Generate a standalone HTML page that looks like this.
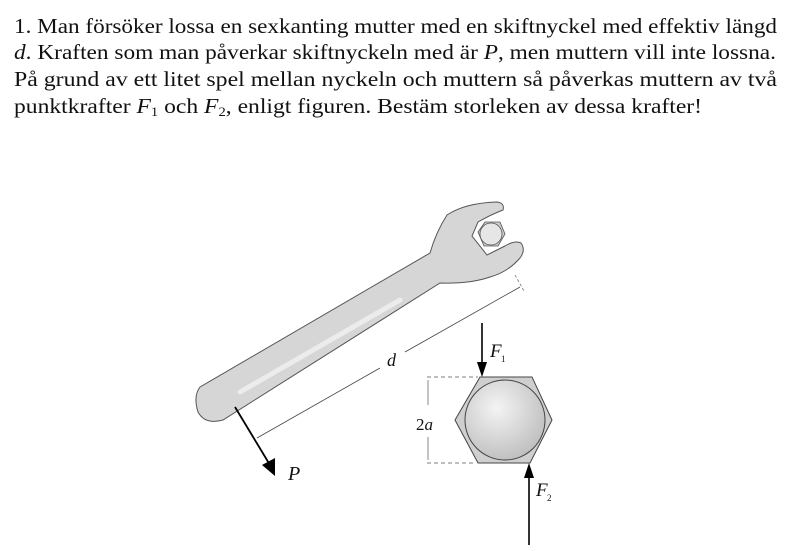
<!DOCTYPE html>
<html><head><meta charset="utf-8"><style>
body{margin:0;background:#fff;}
svg{display:block}
text{font-family:"Liberation Serif",serif;fill:#111}
</style></head><body>
<svg width="800" height="551" viewBox="0 0 800 551" xmlns="http://www.w3.org/2000/svg">
<defs>
<radialGradient id="g" cx="0.4" cy="0.35" r="0.7"><stop offset="0" stop-color="#f4f4f4"/><stop offset="1" stop-color="#bdbdbd"/></radialGradient>
</defs>
<g font-size="21">
<text x="14" y="33" textLength="763" lengthAdjust="spacingAndGlyphs">1. Man försöker lossa en sexkanting mutter med en skiftnyckel med effektiv längd</text>
<text x="14" y="59" textLength="762" lengthAdjust="spacingAndGlyphs"><tspan font-style="italic">d</tspan>. Kraften som man påverkar skiftnyckeln med är <tspan font-style="italic">P</tspan>, men muttern vill inte lossna.</text>
<text x="14" y="86" textLength="763" lengthAdjust="spacingAndGlyphs">På grund av ett litet spel mellan nyckeln och muttern så påverkas muttern av två</text>
<text x="14" y="113" textLength="688" lengthAdjust="spacingAndGlyphs">punktkrafter <tspan font-style="italic">F</tspan><tspan font-size="13" dy="3">1</tspan><tspan dy="-3"> och </tspan><tspan font-style="italic">F</tspan><tspan font-size="13" dy="3">2</tspan><tspan dy="-3">, enligt figuren. Bestäm storleken av dessa krafter!</tspan></text>
</g>
<!-- wrench -->
<path d="M200,387 L430,253 Q436,232 447,215 Q465,203 497,202 Q505,203 503,210 Q490,215 478,222 L472,236 L487,255 L505,246 Q515,240 521,243 Q526,250 520,258 Q508,272 490,277 Q470,284 440,283 L223,420 Q205,425 198,412 Q193,396 200,387 Z" fill="#d6d6d6" stroke="#555" stroke-width="1"/>
<path d="M240,392 L400,300" stroke="#ececec" stroke-width="5" stroke-linecap="round"/>
<polygon points="478,232 485,222 500,222 505,234 498,246 484,246" fill="#ccc" stroke="#555" stroke-width="0.8"/>
<circle cx="491" cy="234" r="11" fill="#e6e6e6" stroke="#555" stroke-width="0.8"/>
<!-- d dimension -->
<line x1="257" y1="438" x2="380" y2="368" stroke="#444" stroke-width="0.8"/>
<line x1="405" y1="352" x2="520" y2="287" stroke="#444" stroke-width="0.8"/>
<line x1="515" y1="275" x2="524" y2="291" stroke="#666" stroke-width="0.7" stroke-dasharray="3,2"/>
<text x="387" y="366" font-size="18" font-style="italic">d</text>
<!-- P arrow -->
<line x1="235" y1="407" x2="270" y2="465" stroke="#000" stroke-width="1.8"/>
<polygon points="275,476 262,465 275,458" fill="#000"/>
<text x="288" y="480" font-size="20" font-style="italic">P</text>
<!-- nut -->
<polygon points="480,377 532,377 552,420 530,463 478,463 455,420" fill="#cfcfcf" stroke="#444" stroke-width="1"/>
<circle cx="505" cy="420" r="40" fill="url(#g)" stroke="#444" stroke-width="1"/>
<line x1="427" y1="377" x2="478" y2="377" stroke="#555" stroke-width="0.8" stroke-dasharray="4,3"/>
<line x1="427" y1="463" x2="476" y2="463" stroke="#555" stroke-width="0.8" stroke-dasharray="4,3"/>
<line x1="428" y1="380" x2="428" y2="405" stroke="#555" stroke-width="0.7"/>
<line x1="428" y1="437" x2="428" y2="460" stroke="#555" stroke-width="0.7"/>
<text x="416" y="430" font-size="17">2<tspan font-style="italic">a</tspan></text>
<!-- F1 -->
<line x1="482" y1="323" x2="482" y2="365" stroke="#000" stroke-width="1.6"/>
<polygon points="482,377 477,362 487,362" fill="#000"/>
<text x="490" y="357" font-size="19" font-style="italic">F</text><text x="501" y="362" font-size="9">1</text>
<!-- F2 -->
<line x1="529" y1="545" x2="529" y2="475" stroke="#000" stroke-width="1.6"/>
<polygon points="529,463 524,478 534,478" fill="#000"/>
<text x="536" y="496" font-size="19" font-style="italic">F</text><text x="547" y="501" font-size="9">2</text>
</svg>
</body></html>
